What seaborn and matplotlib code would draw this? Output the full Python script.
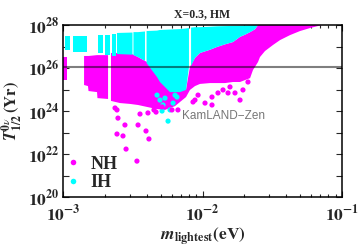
import numpy as np
import pandas as pd
import matplotlib
matplotlib.use("Agg")
import matplotlib.pyplot as plt
import seaborn as sns
from matplotlib.ticker import FixedLocator, FuncFormatter, LogLocator, NullFormatter
from matplotlib.lines import Line2D

nan = np.nan

# ---------------------------
# Data (log10 m_lightest [eV], log10 T_1/2 [yr])
# ---------------------------
# NH region (magenta): envelope of the scatter cloud
nh_logm = [-3.000, -2.971, nan, -2.849, -2.821, -2.817, -2.756, -2.753, -2.677, nan,
           -2.656, -2.591, -2.520, -2.462, -2.398, -2.326, -2.269, -2.197, -2.118,
           -2.090, -2.054, -2.018, -1.946, -1.896, -1.839, -1.781, -1.731, -1.695,
           -1.659, -1.638, -1.624, -1.602, -1.588, -1.552, -1.495, -1.444, -1.373,
           -1.301, -1.229, -1.143]
nh_top = [26.51, 26.51, nan, 26.56, 26.56, 26.56, 26.60, 26.60, 26.60, nan,
          26.70, 26.70, 26.70, 26.51, 26.28, 25.63, 25.20, 25.00, 25.00,
          26.05, 26.47, 26.70, 26.85, 26.98, 27.10, 27.21, 27.45, 27.55,
          27.67, 27.75, 27.80, 28.00, 28.00, 28.00, 28.00, 28.00, 28.00,
          28.00, 28.00, 28.00]
nh_bot = [25.44, 25.44, nan, 25.21, 25.16, 24.93, 24.88, 24.60, 24.56, nan,
          24.47, 24.37, 24.33, 24.28, 24.19, 24.09, 24.05, 24.23, 24.65,
          24.98, 25.16, 25.26, 25.30, 25.30, 25.30, 25.35, 25.35, 25.44,
          25.53, 25.91, 26.05, 26.28, 26.51, 26.79, 27.07, 27.30, 27.53,
          27.72, 27.86, 28.00]

# IH region (cyan)
ih_logm = [-2.986, -2.950, nan, -2.928, -2.828, nan, -2.749, -2.713, nan,
           -2.699, -2.663, nan, -2.652, -2.620, nan, -2.613, -2.502, nan,
           -2.495, -2.462, -2.412, nan, -2.401, -2.326, -2.305, -2.233, -2.161,
           -2.118, -2.097, nan, -2.082, -2.054, -2.018, -1.946, -1.896, -1.839,
           -1.781, -1.731, -1.695, -1.659, -1.624, -1.602]
ih_top = [27.49, 27.49, nan, 27.49, 27.49, nan, 27.53, 27.53, nan,
          27.53, 27.53, nan, 27.58, 27.58, nan, 27.63, 27.65, nan,
          27.67, 27.67, 27.70, nan, 27.72, 27.74, 27.77, 27.79, 27.81,
          27.84, 27.86, nan, 27.88, 27.90, 27.90, 27.92, 27.94, 27.95,
          27.96, 27.97, 27.98, 27.99, 28.00, 28.00]
ih_bot = [26.84, 26.84, nan, 26.74, 26.74, nan, 26.70, 26.70, nan,
          26.60, 26.60, nan, 26.56, 26.56, nan, 26.65, 26.62, nan,
          26.60, 26.51, 26.33, nan, 26.23, 25.58, 25.35, 24.88, 24.88,
          24.98, 26.05, nan, 26.09, 26.47, 26.70, 26.85, 26.98, 27.10,
          27.21, 27.45, 27.55, 27.67, 27.80, 28.00]

# isolated points below the clouds
nh_dot_logm = [-2.627, -2.613, -2.606, -2.556, -2.613, -2.570, -2.548, -2.470,
               -2.462, -2.448, -2.405, -2.391, -2.384, -2.348, -2.333, -2.290,
               -2.219, -2.176, -2.054, -2.032, -2.068, -1.982, -1.932, -1.932,
               -1.889, -1.853, -1.817, -1.803, -1.767, -1.731, -1.710, -1.674]
nh_dot_logt = [24.14, 24.05, 23.67, 23.35, 22.93, 22.84, 22.23, 21.67,
               23.35, 23.86, 23.07, 23.91, 22.70, 24.05, 23.95, 24.19,
               24.05, 24.05, 24.51, 24.74, 24.42, 24.37, 24.28, 24.65,
               24.84, 24.98, 24.84, 25.12, 24.84, 24.51, 24.98, 25.35]
ih_dot_logm = [-2.326, -2.305, -2.290, -2.283, -2.269, -2.247, -2.233, -2.211,
               -2.197, -2.183]
ih_dot_logt = [24.74, 24.51, 24.00, 24.28, 24.60, 23.53, 24.05, 24.37,
               24.74, 24.65]

kamland_limit = 1.07e26
labels = ["NH", "IH"]
colors = ["#ff00ff", "#00ffff"]

# ---------------------------
# Style
# ---------------------------
sns.set_style("ticks")
plt.rcParams["font.family"] = ["Liberation Serif", "DejaVu Serif"]
plt.rcParams["mathtext.fontset"] = "stix"

fig = plt.figure(figsize=(3.6, 2.48), dpi=100)
ax = fig.add_axes([0.175, 0.2056, 0.775, 0.6935])

# clouds
ax.fill_between(10 ** np.array(nh_logm), 10 ** np.array(nh_top), 10 ** np.array(nh_bot),
                color=colors[0], lw=0, zorder=1)
ax.fill_between(10 ** np.array(ih_logm), 10 ** np.array(ih_top), 10 ** np.array(ih_bot),
                color=colors[1], lw=0, zorder=2)

dots = pd.DataFrame({
    "m": 10 ** np.array(ih_dot_logm + nh_dot_logm),
    "T": 10 ** np.array(ih_dot_logt + nh_dot_logt),
    "hier": ["IH"] * len(ih_dot_logm) + ["NH"] * len(nh_dot_logm),
})
sns.scatterplot(data=dots, x="m", y="T", hue="hier", palette=dict(zip(labels, colors)),
                s=14, linewidth=0, legend=False, ax=ax, zorder=3)

ax.axhline(kamland_limit, color="black", alpha=0.5, lw=1.5, zorder=4)
ax.text(7.1e-3, 10 ** 23.75, "KamLAND\u2212Zen", family="Liberation Sans", fontsize=8.5,
        color="#777777", ha="left", va="center")

ax.set_xscale("log")
ax.set_yscale("log")
ax.set_xlim(1e-3, 1e-1)
ax.set_ylim(1e20, 1e28)

pow_fmt = FuncFormatter(lambda v, p: r"$\mathbf{10^{%d}}$" % round(np.log10(v)))
ax.xaxis.set_major_locator(LogLocator(base=10))
ax.xaxis.set_minor_locator(LogLocator(base=10, subs=np.arange(2, 10)))
ax.xaxis.set_major_formatter(pow_fmt)
ax.xaxis.set_minor_formatter(NullFormatter())
ax.yaxis.set_major_locator(FixedLocator([10.0 ** k for k in range(20, 29)]))
ax.yaxis.set_minor_locator(FixedLocator([]))
ax.yaxis.set_major_formatter(FuncFormatter(
    lambda v, p: r"$\mathbf{10^{%d}}$" % round(np.log10(v)) if round(np.log10(v)) % 2 == 0 else ""))

ax.tick_params(which="both", direction="in", top=True, right=True, labelsize=12.5,
               width=0.8, pad=2.5)
ax.tick_params(axis="x", which="major", pad=5)
ax.tick_params(which="major", length=4)
ax.tick_params(which="minor", length=2.5)
for lab in ax.get_yticklabels():
    lab.set_verticalalignment("center_baseline")
for sp in ax.spines.values():
    sp.set_linewidth(1.1)
    sp.set_color("black")

ax.set_xlabel(r"$\mathbfit{m}_{\mathbf{lightest}}\mathbf{(eV)}$", fontsize=12.5)
ax.set_ylabel(r"$\mathbfit{T}_{\mathbf{1/2}}^{\mathbf{0}\nu}\,\mathbf{(Yr)}$", fontsize=12)
ax.xaxis.set_label_coords(0.5, -0.165)
ax.yaxis.set_label_coords(-0.135, 0.5)
ax.set_title("X=0.3, HM", fontsize=8.5, fontweight="bold", pad=6)

handles = [Line2D([], [], ls="", marker="o", ms=4, mew=0, color=c) for c in colors]
leg = ax.legend(handles, labels, loc="lower left", bbox_to_anchor=(-0.03, -0.03),
                frameon=False, handlelength=0.8, handletextpad=0.6, labelspacing=0.1,
                borderaxespad=0.2, prop={"family": "Liberation Serif", "weight": "bold", "size": 13})

fig.savefig("out.png", dpi=100)
